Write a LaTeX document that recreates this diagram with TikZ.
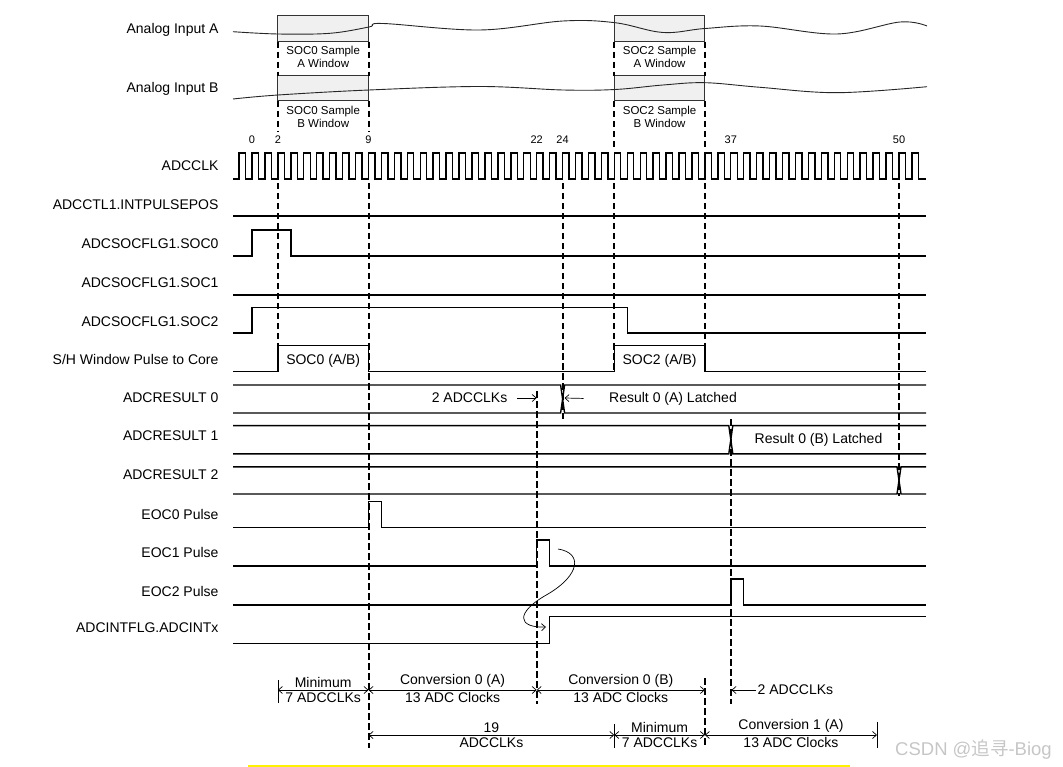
\documentclass[tikz,border=0pt]{standalone}
\usepackage{fontspec}
\setmainfont{Liberation Sans}
\newfontfamily\cjkfont{Noto Sans CJK SC}
\usetikzlibrary{arrows.meta}

\begin{document}
\begin{tikzpicture}[x=1pt, y=-1pt,
  sig/.style={line width=1.4pt},
  guide/.style={line width=2pt, dash pattern=on 6.5pt off 3.5pt},
  wave/.style={line width=0.9pt, black!85},
  win/.style={draw=black!80, line width=1pt, fill=gray!12},
  lbl/.style={anchor=east, font=\fontsize{14}{16}\selectfont},
  wtxt/.style={font=\fontsize{11.5}{13}\selectfont, align=center},
  num/.style={font=\fontsize{11}{13}\selectfont},
  note/.style={font=\fontsize{14}{16}\selectfont, inner sep=1.5pt},
  dim/.style={<->, >={Straight Barb[length=4pt,width=7pt]}, line width=0.7pt},
  ptr/.style={->, >={Straight Barb[length=4pt,width=7pt]}, line width=0.7pt}]
\useasboundingbox (0,0) rectangle (1063,767);
\foreach \a/\b in {277.9/368.5, 614.3/704.9} {
  \draw[win] (\a,15.7) rectangle (\b,41.7);
  \draw[win] (\a,76) rectangle (\b,101);
}
\draw[wave] plot[smooth, tension=0.6] coordinates {(233,31.7) (278,34) (330,33.3) (369,27) (383,23.5) (480,30) (563,21) (615,22.7) (663,32.5) (705,28.5) (760,26) (837,34) (900,22) (927,26)};
\draw[wave] plot[smooth, tension=0.6] coordinates {(233,99) (278,95) (369,90) (480,86.5) (563,90) (615,89.5) (663,85) (705,82.7) (760,87.3) (837,92.7) (927,86.7)};
\node[wtxt] (w0a) at (323.2,56.5) {SOC0 Sample\\A Window};
\node[wtxt] (w0b) at (323.2,116.5) {SOC0 Sample\\B Window};
\node[wtxt] (w2a) at (659.6,56.5) {SOC2 Sample\\A Window};
\node[wtxt] (w2b) at (659.6,116.5) {SOC2 Sample\\B Window};

\node[lbl] (ina) at (222,30) {Analog Input A};
\node[lbl] (inb) at (222,89) {Analog Input B};
\node[lbl] (clk) at (222,166) {ADCCLK};
\node[lbl] (intpos) at (222,205) {ADCCTL1.INTPULSEPOS};
\node[lbl] (soc0) at (222,244) {ADCSOCFLG1.SOC0};
\node[lbl] (soc1) at (222,283) {ADCSOCFLG1.SOC1};
\node[lbl] (soc2) at (222,322) {ADCSOCFLG1.SOC2};
\node[lbl] (sh) at (222,359) {S/H Window Pulse to Core};
\node[lbl] (res0) at (222,398) {ADCRESULT 0};
\node[lbl] (res1) at (222,436) {ADCRESULT 1};
\node[lbl] (res2) at (222,475) {ADCRESULT 2};
\node[lbl] (eoc0) at (222,514) {EOC0 Pulse};
\node[lbl] (eoc1) at (222,552) {EOC1 Pulse};
\node[lbl] (eoc2) at (222,591) {EOC2 Pulse};
\node[lbl] (adcint) at (222,628) {ADCINTFLG.ADCINTx};

\foreach \n/\x in {0/252, 2/277.9, 9/368.5, 22/536.7, 24/562.6, 37/730.8, 50/899}
  \node[num] (n\n) at (\x,140) {\n};
\draw[sig] (233,179) foreach \n in {-1,...,51} { -- ({252+12.94*\n},179) -- ++(0,-26) -- ++(6.47,0) -- ++(0,26) } -- (926,179);

\draw[sig] (233,216) -- (926,216);
\draw[sig] (233,256) -- (252,256) -- (252,230) -- (290.8,230) -- (290.8,256) -- (926,256);
\draw[sig] (233,295) -- (926,295);
\draw[sig] (233,333) -- (252,333) -- (252,307.7) -- (627.3,307.7) -- (627.3,333) -- (926,333);
\draw[sig] (233,371.7) -- (277.9,371.7) -- (277.9,345.7) -- (368.5,345.7) -- (368.5,371.7) -- (614.3,371.7) -- (614.3,345.7) -- (704.9,345.7) -- (704.9,371.7) -- (926,371.7);
\node[note] (sh0) at (323.2,361) {SOC0 (A/B)};
\node[note] (sh2) at (659.6,361) {SOC2 (A/B)};
\foreach \t/\b/\x in {385/413/562.6, 425.6/453.8/730.8, 466.8/494/899} {
  \draw[sig] (233,\t) -- ({\x-2},\t) -- ({\x+2},\b) -- (926,\b);
  \draw[sig] (233,\b) -- ({\x-2},\b) -- ({\x+2},\t) -- (926,\t);
}
\draw[sig] (233,527.3) -- (368.5,527.3) -- (368.5,501.7) -- (381.4,501.7) -- (381.4,527.3) -- (926,527.3);
\draw[sig] (233,566) -- (536.7,566) -- (536.7,540) -- (549.6,540) -- (549.6,566) -- (926,566);
\draw[sig] (233,605) -- (730.8,605) -- (730.8,579) -- (743.7,579) -- (743.7,605) -- (926,605);
\draw[sig] (233,643.3) -- (549.6,643.3) -- (549.6,616.7) -- (926,616.7);

\draw[guide] (277.9,41.7) -- (277.9,76) (277.9,101) -- (277.9,132) (277.9,183) -- (277.9,371.7);
\draw[guide] (368.5,41.7) -- (368.5,76) (368.5,101) -- (368.5,132) (368.5,183) -- (368.5,748);
\draw[guide] (614.3,41.7) -- (614.3,76) (614.3,101) -- (614.3,150) (614.3,183) -- (614.3,371.7);
\draw[guide] (704.9,41.7) -- (704.9,76) (704.9,101) -- (704.9,150) (704.9,183) -- (704.9,371.7) (704.9,678) -- (704.9,748);
\draw[guide] (562.6,183) -- (562.6,419);
\draw[guide] (536.7,391) -- (536.7,704);
\draw[guide] (730.8,419) -- (730.8,704);
\draw[guide] (899,183) -- (899,496);

\node[note, anchor=east] (two) at (509,398) {2 ADCCLKs};
\coordinate (t22) at (536.7,398);
\draw[ptr, shorten <=8pt] (two.east) -- (t22);
\node[note] (lat0) at (673,399) {Result 0 (A) Latched};
\coordinate (t24) at (564.5,398);
\draw[ptr, shorten <=24pt] (lat0.west) -- (t24);
\node[note] (lat1) at (818.5,439.7) {Result 0 (B) Latched};

\coordinate (cv0) at (558,549);
\coordinate (cv1) at (546,627);
\draw[ptr] (cv0) .. controls (583,553) and (580,575) .. (548,594) .. controls (514,613) and (518,628) .. (cv1);

\coordinate (b2) at (277.9,690);
\coordinate (b9) at (368.5,690);
\coordinate (b22) at (536.7,690);
\coordinate (b35) at (704.9,690);
\coordinate (b37) at (731.5,690);
\draw[line width=0.7pt] (277.9,680) -- (277.9,703);
\draw[dim] (b2) -- node[note, above=1pt]{Minimum} node[note, below=1pt]{7 ADCCLKs} (b9);
\draw[dim] (b9) -- node[note, above=1pt]{Conversion 0 (A)} node[note, below=1pt]{13 ADC Clocks} (b22);
\draw[dim] (b22) -- node[note, above=1pt]{Conversion 0 (B)} node[note, below=1pt]{13 ADC Clocks} (b35);
\node[note, anchor=west] (two2) at (756,690) {2 ADCCLKs};
\draw[ptr] (two2.west) -- (b37);

\coordinate (d9) at (368.5,735);
\coordinate (d28) at (614.3,735);
\coordinate (d35) at (704.9,735);
\coordinate (d48) at (877,735);
\draw[line width=0.7pt] (614.3,724) -- (614.3,748) (877,722) -- (877,748);
\draw[dim] (d9) -- node[note, above=1pt]{19} node[note, below=1pt]{ADCCLKs} (d28);
\draw[dim] (d28) -- node[note, above=1pt]{Minimum} node[note, below=1pt]{7 ADCCLKs} (d35);
\draw[dim] (d35) -- node[note, above=1pt]{Conversion 1 (A)} node[note, below=1pt]{13 ADC Clocks} (d48);

\draw[yellow, line width=2pt] (248,766) -- (850,766);
\node[anchor=west, text=gray!45, font=\fontsize{18.5}{20}\selectfont, inner sep=0pt] (wm) at (895,750) {CSDN @{\cjkfont 追寻}-Biog};
\end{tikzpicture}
\end{document}
